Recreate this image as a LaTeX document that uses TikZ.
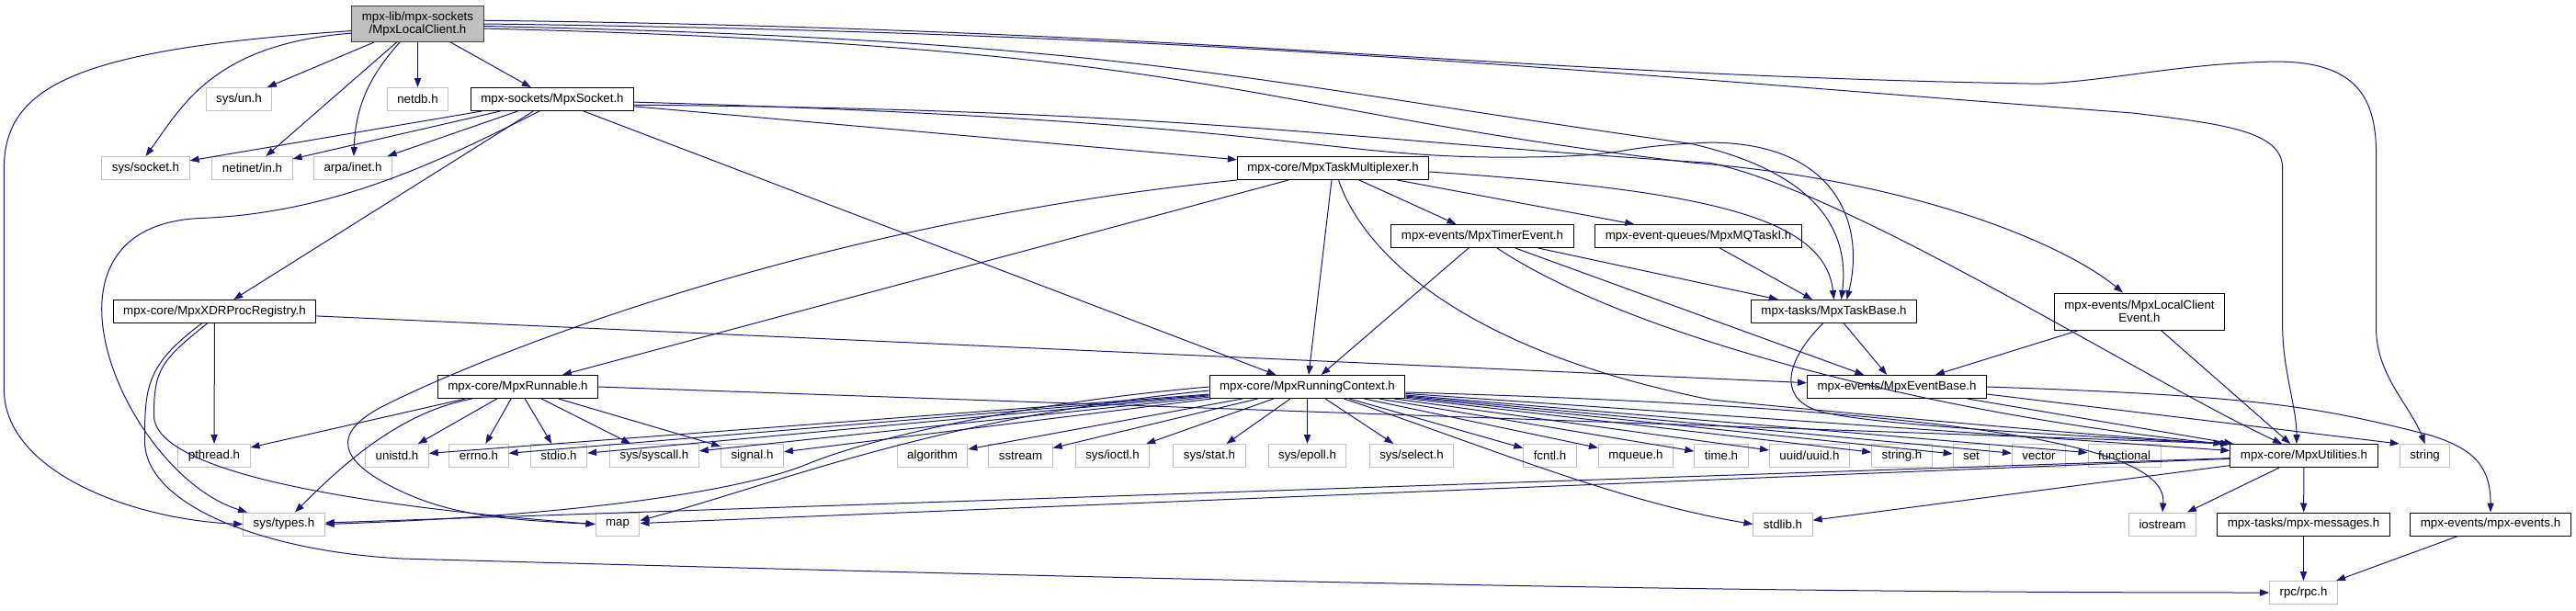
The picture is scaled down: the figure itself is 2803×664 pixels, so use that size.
\documentclass[tikz,border=0pt]{standalone}
\usepackage{fontspec}
\setmainfont{Liberation Sans}
\usetikzlibrary{arrows.meta}

\begin{document}
\begin{tikzpicture}[
		x=0.5pt,
		y=-0.5pt,
		font=\fontsize{6.65}{7.2}\selectfont,
		hbox/.style={draw, line width=0.5pt, inner xsep=5.5pt, inner ysep=1pt,
			minimum height=12.5pt, align=center},
		sysbox/.style={hbox, draw=BoxGray},
		projbox/.style={hbox, draw=black},
		rootbox/.style={hbox, draw=BoxDark, fill=BoxGray, minimum height=19.5pt},
		dep/.style={draw=EdgeBlue, line width=0.5pt, -{Triangle[length=5pt,width=3.6pt]}}
	]
	% ===== COLORS =====
	\definecolor{BoxGray}{RGB}{191,191,191}
	\definecolor{BoxDark}{RGB}{64,64,64}
	\definecolor{EdgeBlue}{RGB}{25,25,112}

	\useasboundingbox (0,0) rectangle (2803,664);

	% ===== HEADERS, TOP =====
	\node[rootbox] (root) at (454.5,26) {mpx-lib/mpx-sockets\\/MpxLocalClient.h};
	\node[sysbox] (un) at (260,108) {sys/un.h};
	\node[sysbox] (netdb) at (454.5,108) {netdb.h};
	\node[projbox] (sock) at (601,108) {mpx-sockets/MpxSocket.h};
	\node[sysbox] (socket) at (158.5,183) {sys/socket.h};
	\node[sysbox] (netinet) at (274.5,183) {netinet/in.h};
	\node[sysbox] (arpa) at (384,183) {arpa/inet.h};
	\node[projbox] (mux) at (1450.5,183) {mpx-core/MpxTaskMultiplexer.h};
	\node[projbox] (timer) at (1613,257) {mpx-events/MpxTimerEvent.h};
	\node[projbox] (mq) at (1848,257) {mpx-event-queues/MpxMQTaskI.h};
	\node[projbox] (xdr) at (233.5,339) {mpx-core/MpxXDRProcRegistry.h};
	\node[projbox] (taskbase) at (1995.5,339) {mpx-tasks/MpxTaskBase.h};
	\node[projbox, minimum height=20pt] (lce) at (2328,339) {mpx-events/MpxLocalClient\\Event.h};
	\node[projbox] (runnable) at (563.5,421) {mpx-core/MpxRunnable.h};
	\node[projbox] (ctx) at (1422.5,421) {mpx-core/MpxRunningContext.h};
	\node[projbox] (evbase) at (2064,421) {mpx-events/MpxEventBase.h};

	% ===== HEADERS, ROW OF SYSTEM FILES =====
	\node[sysbox] (pthread) at (233,496) {pthread.h};
	\node[sysbox] (unistd) at (432,496) {unistd.h};
	\node[sysbox] (errno) at (521,496) {errno.h};
	\node[sysbox] (stdio) at (608,496) {stdio.h};
	\node[sysbox] (syscall) at (712,496) {sys/syscall.h};
	\node[sysbox] (signal) at (818.5,496) {signal.h};
	\node[sysbox] (algorithm) at (1014.5,496) {algorithm};
	\node[sysbox] (sstream) at (1110.5,496) {sstream};
	\node[sysbox] (ioctl) at (1210.5,496) {sys/ioctl.h};
	\node[sysbox] (stat) at (1316,496) {sys/stat.h};
	\node[sysbox] (epoll) at (1422.5,496) {sys/epoll.h};
	\node[sysbox] (select) at (1536,496) {sys/select.h};
	\node[sysbox] (fcntl) at (1686.5,496) {fcntl.h};
	\node[sysbox] (mqueue) at (1780,496) {mqueue.h};
	\node[sysbox] (time) at (1873,496) {time.h};
	\node[sysbox] (uuid) at (1969,496) {uuid/uuid.h};
	\node[sysbox] (stringh) at (2069.5,496) {string.h};
	\node[sysbox] (set) at (2145,496) {set};
	\node[sysbox] (vector) at (2218.5,496) {vector};
	\node[sysbox] (functional) at (2311.5,496) {functional};
	\node[projbox] (util) at (2507,496) {mpx-core/MpxUtilities.h};
	\node[sysbox] (string) at (2638.5,496) {string};

	% ===== HEADERS, BOTTOM =====
	\node[sysbox] (types) at (309,570.5) {sys/types.h};
	\node[sysbox] (map) at (672,570.5) {map};
	\node[sysbox] (stdlib) at (1940,570.5) {stdlib.h};
	\node[sysbox] (iostream) at (2353,570.5) {iostream};
	\node[projbox] (msgs) at (2506.5,570.5) {mpx-tasks/mpx-messages.h};
	\node[projbox] (events) at (2710,570.5) {mpx-events/mpx-events.h};
	\node[sysbox] (rpc) at (2506.5,645) {rpc/rpc.h};

	% ===== MpxLocalClient.h =====
	\draw[dep] (root.188) .. controls +(-150,12) and +(40,-55) .. (socket.north);
	\draw[dep] (root.186) .. controls +(-300,20) and +(0,-90) .. ++(-378,150)
		-- ++(0,240) .. controls +(0,90) and +(-120,-5) .. (types.west);
	\draw[dep] (root) -- (un);
	\draw[dep] (root) -- (netinet);
	\draw[dep] (root) to[bend right=20] (arpa);
	\draw[dep] (root) -- (netdb);
	\draw[dep] (root) -- (sock);
	\draw[dep] (root.3) .. controls +(800,10) and +(-600,-10) .. ++(1694,69)
		.. controls +(80,-4) and +(-100,3) .. ++(247,-24)
		.. controls +(100,-3) and +(0,-60) .. ++(118,102)
		-- ++(0,189) .. controls +(0,50) and +(-15,-40) .. (string.north);
	\draw[dep] (root.0) .. controls +(800,10) and +(-600,-45) .. ++(1794,97)
		.. controls +(100,12) and +(0,-40) .. ++(163,60)
		-- ++(0,170) .. controls +(0,50) and +(0,-40) .. ([xshift=-4pt]util.north);
	\draw[dep] (root.-2) .. controls +(700,15) and +(-500,-70) .. ++(1314,128)
		.. controls +(130,30) and +(10,-80) .. ([xshift=4pt]taskbase.north);
	\draw[dep] (root.-4) .. controls +(800,20) and +(-500,-60) .. ++(1314,146)
		.. controls +(250,20) and +(-60,-50) .. ([xshift=-9pt]lce.north);

	% ===== MpxSocket.h =====
	\draw[dep] (sock) -- (socket);
	\draw[dep] (sock) -- (netinet);
	\draw[dep] (sock) -- (arpa);
	\draw[dep] ([xshift=-7pt]sock.south) .. controls +(-100,50) and +(150,-5) .. ++(-370,116.5)
		.. controls +(-200,10) and +(-130,-40) .. ([xshift=-20pt]types.north);
	\draw[dep] (sock) -- (xdr);
	\draw[dep] (sock) -- (ctx);
	\draw[dep] (sock) -- (mux);
	\draw[dep] (sock.-2) .. controls +(700,20) and +(-200,0) .. ++(947,60)
		.. controls +(150,0) and +(-120,5) .. ++(223,-16)
		.. controls +(140,0) and +(20,-80) .. ([xshift=7pt]taskbase.north);
	\draw[dep] (sock.-4) .. controls +(600,5) and +(-400,-25) .. ++(1170,63)
		.. controls +(150,30) and +(-150,-70) .. ([xshift=-12pt]util.north);

	% ===== MpxTaskMultiplexer.h =====
	\draw[dep] (mux) -- (runnable);
	\draw[dep] (mux.south west) .. controls +(-450,45) and +(120,-60) .. ++(-927,245)
		.. controls +(-60,30) and +(-60,-30) .. ++(10,90)
		.. controls +(60,30) and +(-100,-5) .. (map.west);
	\draw[dep] (mux) -- (ctx);
	\draw[dep] (mux) -- (timer);
	\draw[dep] (mux) -- (mq);
	\draw[dep] ([yshift=-2pt]mux.east) .. controls +(300,20) and +(-10,-90) .. (taskbase.north);
	\draw[dep] ([xshift=3pt]mux.south) .. controls +(20,60) and +(-300,-60) .. ++(405,239)
		.. controls +(200,20) and +(-100,-5) .. (util.north west);

	% ===== MpxTimerEvent.h, MpxMQTaskI.h =====
	\draw[dep] (timer) -- (ctx);
	\draw[dep] (timer) -- (taskbase);
	\draw[dep] (timer) -- (evbase);
	\draw[dep] ([xshift=8pt]timer.south) .. controls +(150,100) and +(-300,-30) .. ([xshift=-4pt]util.north west);
	\draw[dep] (mq) -- (taskbase);

	% ===== MpxXDRProcRegistry.h =====
	\draw[dep] (xdr) -- (pthread);
	\draw[dep] (xdr) -- (evbase);
	\draw[dep] ([xshift=-7pt]xdr.south) .. controls +(-60,45) and +(0,-60) .. ++(-62,128)
		.. controls +(0,70) and +(-150,-8) .. ++(280,128)
		.. controls +(900,25) and +(-600,0) .. (rpc.west);
	\draw[dep] ([xshift=-4pt]xdr.south) .. controls +(-50,40) and +(0,-50) .. ++(-58,100)
		.. controls +(0,70) and +(-200,-15) .. (map.west);

	% ===== MpxRunnable.h =====
	\draw[dep] (runnable) -- (pthread);
	\draw[dep] ([xshift=-25pt]runnable.south) .. controls +(-80,15) and +(50,-50) .. ([xshift=6pt]types.north);
	\draw[dep] (runnable) -- (unistd);
	\draw[dep] (runnable) -- (errno);
	\draw[dep] (runnable) -- (stdio);
	\draw[dep] (runnable) -- (syscall);
	\draw[dep] (runnable) -- (signal);
	\draw[dep] (runnable.east) -- (util.north west);

	% ===== MpxRunningContext.h =====
	\draw[dep] (ctx) -- (unistd);
	\draw[dep] (ctx) -- (errno);
	\draw[dep] (ctx) -- (stdio);
	\draw[dep] (ctx) -- (syscall);
	\draw[dep] (ctx) -- (signal);
	\draw[dep] (ctx) -- (algorithm);
	\draw[dep] (ctx) -- (sstream);
	\draw[dep] (ctx) -- (ioctl);
	\draw[dep] (ctx) -- (stat);
	\draw[dep] (ctx) -- (epoll);
	\draw[dep] (ctx) -- (select);
	\draw[dep] (ctx) -- (fcntl);
	\draw[dep] (ctx) -- (mqueue);
	\draw[dep] (ctx) -- (time);
	\draw[dep] (ctx) -- (uuid);
	\draw[dep] (ctx) -- (stringh);
	\draw[dep] (ctx) -- (set);
	\draw[dep] (ctx) -- (vector);
	\draw[dep] (ctx) -- (functional);
	\draw[dep] (ctx) -- (util);
	\draw[dep] ([yshift=-3pt]ctx.east) .. controls +(700,20) and +(5,-60) .. (iostream.north);
	\draw[dep] ([xshift=20pt]ctx.south) .. controls +(150,50) and +(-150,-25) .. (stdlib.west);
	\draw[dep] (ctx.west) .. controls +(-217,19) and +(60,-25) .. ++(-437,84)
		.. controls +(-60,25) and +(300,-10) .. (types.east);
	\draw[dep] ([yshift=-2pt]ctx.west) .. controls +(-300,30) and +(150,-40) .. ([yshift=2pt]map.east);

	% ===== MpxTaskBase.h, MpxLocalClientEvent.h, MpxEventBase.h =====
	\draw[dep] (taskbase) -- (evbase);
	\draw[dep] ([xshift=-6pt]taskbase.south) .. controls +(-40,40) and +(-40,-15) .. ++(-8.5,94)
		.. controls +(40,15) and +(-200,-10) .. (util.north west);
	\draw[dep] (lce) -- (evbase);
	\draw[dep] (lce) -- (util);
	\draw[dep] (evbase) -- (util);
	\draw[dep] (evbase.east) .. controls +(300,10) and +(-120,-30) .. ++(480,52)
		.. controls +(50,15) and +(0,-50) .. (events.north);
	\draw[dep] ([yshift=-4pt]evbase.east) -- (string.north west);

	% ===== MpxUtilities.h AND BELOW =====
	\draw[dep] (util) -- (types);
	\draw[dep] (util) -- (map);
	\draw[dep] (util) -- (stdlib);
	\draw[dep] (util) -- (iostream);
	\draw[dep] (util) -- (msgs);
	\draw[dep] (msgs) -- (rpc);
	\draw[dep] (events) -- (rpc);

\end{tikzpicture}
\end{document}
